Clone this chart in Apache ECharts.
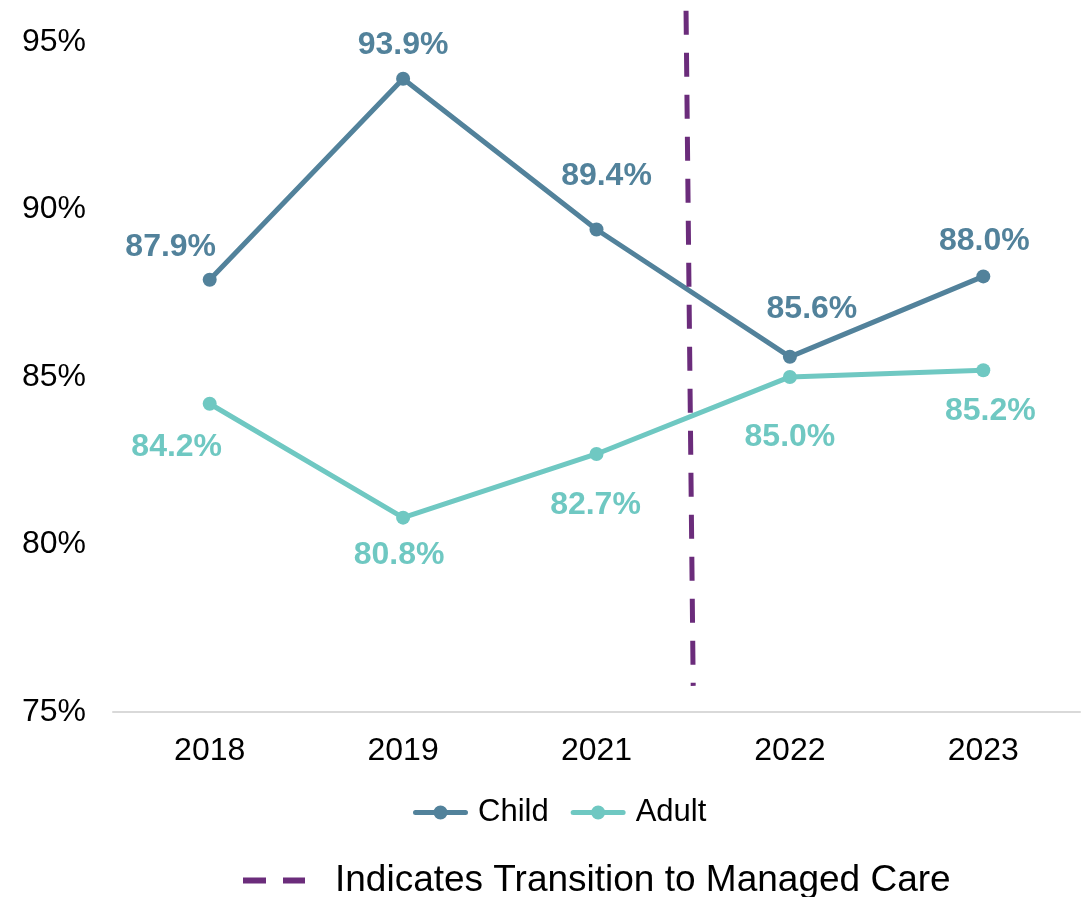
<!DOCTYPE html>
<html>
<head>
<meta charset="utf-8">
<script src="https://cdn.jsdelivr.net/npm/echarts@6/dist/echarts.min.js"></script>
<style>
  html, body { margin: 0; padding: 0; background: #fff; }
  #main { width: 1091px; height: 897px; }
</style>
</head>
<body>
<div id="main"></div>
<script>
// data
var years = ['2018', '2019', '2021', '2022', '2023'];
var childRate = [87.9, 93.9, 89.4, 85.6, 88.0];
var adultRate = [84.2, 80.8, 82.7, 85.0, 85.2];
var yTicks = [75, 80, 85, 90, 95];
// transition marker: position on a 0..5 helper axis (boundary 2021/2022), y span in %
var transitionX = [2.963, 3.0];
var transitionY = [95.93, 75.78];

// label nudges (px) so the labels sit where the original put them
var childLabelOffset = [[-39, -33], [0, -34], [10, -53], [22, -48], [1, -35]];
var adultLabelOffset = [[-33, 43], [-4, 38], [-1, 51], [0, 60], [7, 41]];

var FONT = '"Liberation Sans", Arial, sans-serif';
var childColor = '#52829b';
var adultColor = '#6fc8c2';
var purple = '#6b2c7b';

// legend icons: line with a dot, and two purple dashes
var dotLineIcon = 'path://M2.5,4.5 H52.5 A2.5,2.5 0 0 1 52.5,9.5 H2.5 A2.5,2.5 0 0 1 2.5,4.5 Z M20.5,7 A7,7 0 1 1 34.5,7 A7,7 0 1 1 20.5,7 Z';
var dashIcon = 'path://M0,0 H23 V6 H0 Z M40,0 H62 V6 H40 Z';

function withLabels(values, offsets) {
  return values.map(function (v, i) {
    return { value: v, label: { offset: offsets[i] } };
  });
}

var myChart = echarts.init(document.getElementById('main'));

var option = {
  backgroundColor: '#fff',
  animation: false,
  textStyle: { fontFamily: FONT },
  grid: { left: 113, right: 11, top: 5, bottom: 185, containLabel: false },
  legend: [
    {
      data: [
        { name: 'Child', icon: dotLineIcon },
        { name: 'Adult', icon: dotLineIcon }
      ],
      top: 792,
      left: 408,
      itemWidth: 55,
      itemHeight: 14,
      itemGap: 22,
      textStyle: { fontFamily: FONT, fontSize: 31, color: '#000', padding: [0, 0, 0, 5] }
    },
    {
      data: [{ name: 'Indicates Transition to Managed Care', icon: dashIcon }],
      top: 857,
      left: 238,
      itemWidth: 62,
      itemHeight: 6,
      textStyle: { fontFamily: FONT, fontSize: 37, color: '#000', padding: [0, 0, 0, 25] }
    }
  ],
  xAxis: [
    {
      type: 'category',
      data: years,
      boundaryGap: true,
      axisLine: { lineStyle: { color: '#d9d9d9', width: 2 } },
      axisTick: { show: false },
      axisLabel: { fontFamily: FONT, fontSize: 32, color: '#000', margin: 23 }
    },
    {
      type: 'value',
      min: 0,
      max: 5,
      show: false
    }
  ],
  yAxis: {
    type: 'value',
    min: yTicks[0],
    max: 96.1,
    interval: 5,
    splitLine: { show: false },
    axisLine: { show: false },
    axisTick: { show: false },
    axisLabel: {
      fontFamily: FONT, fontSize: 32, color: '#000', margin: 27,
      showMaxLabel: false,
      formatter: function (v) { return yTicks.indexOf(v) >= 0 ? v + '%' : ''; }
    }
  },
  series: [
    {
      name: 'Child',
      type: 'line',
      data: withLabels(childRate, childLabelOffset),
      color: childColor,
      symbol: 'circle',
      symbolSize: 14,
      lineStyle: { width: 5, color: childColor },
      itemStyle: { color: childColor },
      label: {
        show: true, position: 'inside',
        fontFamily: FONT, fontSize: 32, fontWeight: 'bold', color: childColor,
        formatter: function (p) { return p.value.toFixed(1) + '%'; }
      }
    },
    {
      name: 'Adult',
      type: 'line',
      data: withLabels(adultRate, adultLabelOffset),
      color: adultColor,
      symbol: 'circle',
      symbolSize: 14,
      lineStyle: { width: 5, color: adultColor },
      itemStyle: { color: adultColor },
      label: {
        show: true, position: 'inside',
        fontFamily: FONT, fontSize: 32, fontWeight: 'bold', color: adultColor,
        formatter: function (p) { return p.value.toFixed(1) + '%'; }
      }
    },
    {
      name: 'Indicates Transition to Managed Care',
      type: 'line',
      xAxisIndex: 1,
      data: [],
      color: purple,
      symbol: 'none',
      lineStyle: { width: 5, color: purple, type: [24, 18] },
      markLine: {
        silent: true,
        symbol: 'none',
        label: { show: false },
        lineStyle: { width: 5, color: purple, type: [24, 18] },
        data: [[
          { coord: [transitionX[0], transitionY[0]] },
          { coord: [transitionX[1], transitionY[1]] }
        ]]
      }
    }
  ]
};

myChart.setOption(option);
</script>
</body>
</html>
